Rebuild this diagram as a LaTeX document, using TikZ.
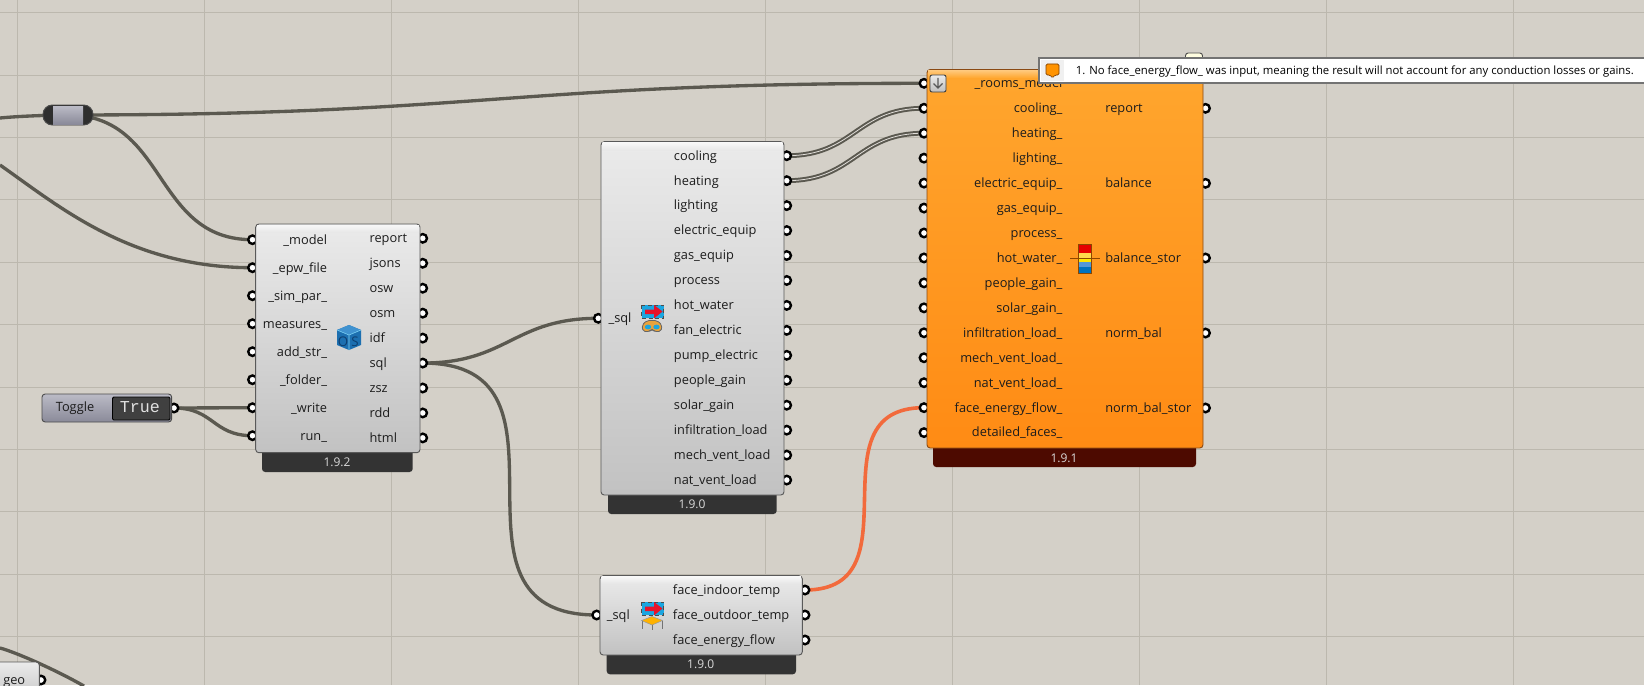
\documentclass[tikz,border=0pt]{standalone}
\usepackage{fontspec}
\setmainfont{Open Sans}
\setmonofont{Liberation Mono}
\definecolor{canvas}{HTML}{D4D0C8}
\definecolor{gridcol}{HTML}{BCB8AE}
\definecolor{wirecol}{HTML}{5B5950}
\definecolor{wirehot}{HTML}{F26A3C}
\definecolor{tabdark}{HTML}{333333}
\definecolor{tabred}{HTML}{4D0A00}
\definecolor{inkcol}{HTML}{1C1C1C}
\definecolor{orangetop}{HTML}{FFA62E}
\definecolor{orangelow}{HTML}{FF8B14}
\definecolor{orangeglow}{HTML}{FFC87A}
\definecolor{orangeedge}{HTML}{8A4A14}
\definecolor{lavtop}{HTML}{BBBBC6}
\definecolor{lavlow}{HTML}{8A8A99}
\definecolor{osblue}{HTML}{1C6FB0}
\definecolor{ostop}{HTML}{3F92D0}
\definecolor{osink}{HTML}{0D3F70}
\definecolor{sqlblue}{HTML}{1BA6E0}
\definecolor{sqlred}{HTML}{E8132A}
\definecolor{sqlgold}{HTML}{E8A33D}
\def\px{0.75pt}
\pgfdeclarelayer{gridlayer}
\pgfdeclarelayer{wirelayer}
\pgfsetlayers{gridlayer,wirelayer,main}
\tikzset{
  ghwire/.style={draw=wirecol,line width=2.5pt},
  ghlist/.style={draw=wirecol,line width=1.5pt,double=canvas!70!white,double distance=0.6pt},
  ghhot/.style={draw=wirehot,line width=2.7pt},
  ghport/.style={circle,draw=black,line width=1.8pt,fill=white,minimum size=8.5*\px,inner sep=0pt},
  ghbody/.style={draw=black!65,line width=0.7pt,rounded corners=2.4pt,top color=black!8,bottom color=black!24,inner sep=0pt},
  ghorange/.style={draw=orangeedge,line width=0.7pt,rounded corners=2.4pt,top color=orangetop,bottom color=orangelow,inner sep=0pt},
  ghtab/.style={fill=tabdark,rounded corners=2.4pt,inner sep=0pt},
  ghtabred/.style={fill=tabred,rounded corners=2.4pt,inner sep=0pt},
  ghver/.style={text=black!15,font=\fontsize{9}{11}\selectfont,inner sep=0pt},
  ghin/.style={anchor=mid east,yshift=-0.6pt,text=inkcol,font=\fontsize{9.6}{11}\selectfont,inner sep=0pt},
  ghout/.style={anchor=mid west,yshift=-0.6pt,text=inkcol,font=\fontsize{9.6}{11}\selectfont,inner sep=0pt},
}
\newcommand{\ghbox}[6]{%
  \node[#2,minimum width={(#5-#3)*\px},minimum height={(#6-#4)*\px}] (#1) at ({(#3+#5)/2},{(#4+#6)/2}) {};}
\begin{document}
\begin{tikzpicture}[x=0.75pt,y=-0.75pt]
  \useasboundingbox (0,0) rectangle (1644,685);
  \begin{pgfonlayer}{gridlayer}
    \fill[canvas] (0,0) rectangle (1644,685);
    \foreach \gx in {0,...,8} \draw[gridcol,line width=0.7pt] ({17+187*\gx},0) -- ({17+187*\gx},685);
    \foreach \gy in {0,...,10} \draw[gridcol,line width=0.7pt] (0,{12.6+62.4*\gy}) -- (1644,{12.6+62.4*\gy});
  \end{pgfonlayer}

  % relay and toggle
  \coordinate (wireleft) at (0,118);
  \coordinate (epwleft) at (0,165);
  \coordinate (geoleft) at (0,648);
  \coordinate (georight) at (84,686);
  \node[draw=black!70,line width=0.7pt,fill=black!82,rounded corners=7pt,minimum width=50*\px,minimum height=20*\px,inner sep=0pt] (relay) at (68,115) {};
  \node[top color=lavtop,bottom color=lavlow,minimum width=30*\px,minimum height=18*\px,inner sep=0pt] (relaymid) at (68,115) {};
  \node[ghport] (togout) at (174,408) {};
  \ghbox{toggle}{draw=black!70,line width=0.7pt,rounded corners=2.4pt,top color=lavtop,bottom color=lavlow,inner sep=0pt}{42}{394}{171.7}{422}
  \ghbox{togglebox}{draw=black,line width=0.7pt,fill=black!75,rounded corners=1pt,inner sep=0pt}{112.5}{397}{170}{420}
  \node[text=inkcol,font=\fontsize{9.6}{11}\selectfont,inner sep=0pt] (togtext) at (75,408) {Toggle};
  \node[text=black!12,font=\fontsize{12.5}{14}\ttfamily,inner sep=0pt] (togval) at (140,407) {True};

  % geo stub
  \node[ghport] (geoport) at (41,680) {};
  \ghbox{geobody}{ghbody}{-12}{662}{39.3}{705}
  \node[ghout] (geotext) at (3,680) {geo};

  % recompute component
  \foreach \n in {0,...,7} \node[ghport] (osin\n) at (252.5,{239.7+28*\n}) {};
  \foreach \n in {0,...,8} \node[ghport] (osout\n) at (422.7,{238.3+24.95*\n}) {};
  \ghbox{ostab}{ghtab}{262}{440}{412.7}{472}
  \ghbox{osbody}{ghbody}{255.7}{224}{420}{452.7}
  \shade[top color=black!3,bottom color=black!9] (257,225) rectangle (419,232);
  \node[ghver] (osver) at (337,462) {1.9.2};
  \foreach \lab [count=\n from 0] in {\_model,\_epw\_file,\_sim\_par\_,measures\_,add\_str\_,\_folder\_,\_write,run\_}
    \node[ghin] (oslab\n) at (327.3,{239.7+28*\n}) {\lab};
  \foreach \lab [count=\n from 0] in {report,jsons,osw,osm,idf,sql,zsz,rdd,html}
    \node[ghout] (osres\n) at (369.3,{238.3+24.95*\n}) {\lab};
  \fill[osblue] (349,325) -- (361,330) -- (361,345) -- (349,350) -- (337,345) -- (337,330) -- cycle;
  \fill[ostop] (349,325) -- (361,330) -- (349,335) -- (337,330) -- cycle;
  \draw[white!50!cyan,line width=0.4pt] (337,330) -- (349,335) -- (361,330) (349,335) -- (349,350);
  \node[text=osink,font=\fontsize{10}{10}\selectfont,inner sep=0pt] (osglyph) at (343,342) {O};
  \node[text=osink,font=\fontsize{10}{10}\selectfont,inner sep=0pt] (osglyphb) at (355,342) {S};

  % energy results component
  \node[ghport] (enin) at (598.3,318.3) {};
  \foreach \n in {0,...,13} \node[ghport] (enout\n) at (786.7,{155.7+24.95*\n}) {};
  \ghbox{entab}{ghtab}{608}{480}{776.7}{514}
  \ghbox{enbody}{ghbody}{601}{141.7}{784}{495}
  \shade[top color=black!3,bottom color=black!9] (602.3,142.7) rectangle (782.7,150);
  \node[ghver] (enver) at (692,504.3) {1.9.0};
  \node[ghin] (enlab) at (631.7,318.3) {\_sql};
  \foreach \lab [count=\n from 0] in {cooling,heating,lighting,electric\_equip,gas\_equip,process,hot\_water,fan\_electric,pump\_electric,people\_gain,solar\_gain,infiltration\_load,mech\_vent\_load,nat\_vent\_load}
    \node[ghout] (enres\n) at (673.7,{155.7+24.95*\n}) {\lab};

  % face results component
  \node[ghport] (facein) at (596.7,615) {};
  \foreach \n in {0,1,2} \node[ghport] (faceout\n) at (805,{590+25*\n}) {};
  \ghbox{facetab}{ghtab}{606.7}{640}{796}{674.3}
  \ghbox{facebody}{ghbody}{600}{575.7}{802.3}{655}
  \shade[top color=black!3,bottom color=black!9] (601.3,576.7) rectangle (801,583);
  \node[ghver] (facever) at (700.7,664) {1.9.0};
  \node[ghin] (facelab) at (630,615) {\_sql};
  \foreach \lab [count=\n from 0] in {face\_indoor\_temp,face\_outdoor\_temp,face\_energy\_flow}
    \node[ghout] (faceres\n) at (672.7,{590+25*\n}) {\lab};

  % sql glyphs
  \foreach \sy in {0,297} {
    \begin{scope}[shift={(0,\sy)}]
      \fill[sqlblue] (641.5,305) rectangle (663.5,318);
      \draw[black!70,line width=0.7pt,densely dashed] (641.5,305) rectangle (663.5,318);
      \fill[sqlred] (645,309.5) -- (654,309.5) -- (654,305) -- (662.5,311.5) -- (654,318.5) -- (654,314) -- (645,314) -- cycle;
    \end{scope}
  }
  \fill[sqlgold,draw=black!60,line width=0.6pt,rounded corners=1.5pt] (647,320.5) -- (657,320.5) -- (662,325) -- (661,331.5) -- (654,331.5) -- (652,329) -- (650,331.5) -- (643,331.5) -- (642,325) -- cycle;
  \fill[sqlblue] (648,327) ellipse (3.2 and 2.4);
  \fill[sqlblue] (656.5,327) ellipse (3.2 and 2.4);
  \draw[black!55,line width=0.7pt] (642,621) -- (642,629) (652,624) -- (652,630) (662,621) -- (662,629);
  \fill[orange!60!yellow,draw=black!40,line width=0.4pt] (641.5,620.5) -- (652,616.5) -- (662.5,620.5) -- (652,625) -- cycle;

  % room balance component
  \foreach \n in {0,...,14} \node[ghport] (balin\n) at (924,{83.3+24.95*\n}) {};
  \foreach \n/\ry in {0/108.3,1/183.3,2/258,3/333,4/408} \node[ghport] (balout\n) at (1205.5,\ry) {};
  \ghbox{baltab}{ghtabred}{933}{430}{1196}{467}
  \ghbox{balbody}{ghorange}{927}{69.5}{1203}{448}
  \shade[top color=orangeglow,bottom color=orangetop] (928,70.5) rectangle (1202,78);
  \node[ghver] (balver) at (1064,458) {1.9.1};
  \foreach \lab [count=\n from 0] in {\_rooms\_model,cooling\_,heating\_,lighting\_,electric\_equip\_,gas\_equip\_,process\_,hot\_water\_,people\_gain\_,solar\_gain\_,infiltration\_load\_,mech\_vent\_load\_,nat\_vent\_load\_,face\_energy\_flow\_,detailed\_faces\_}
    \node[ghin] (ballab\n) at (1062.7,{83.3+24.95*\n}) {\lab};
  \foreach \lab/\ry [count=\n from 0] in {report/108.3,balance/183.3,balance\_stor/258,norm\_bal/333,norm\_bal\_stor/408}
    \node[ghout] (balres\n) at (1105,\ry) {\lab};
  \ghbox{balbtn}{draw=black!75,line width=0.7pt,rounded corners=1.5pt,top color=black!8,bottom color=black!25,inner sep=0pt}{930}{75}{946}{92}
  \draw[black!65,line width=1pt] (938,78) -- (938,88) (933.5,83.5) -- (938,88) -- (942.5,83.5);
  \fill[red!90!black] (1078.5,244) rectangle (1091.5,253);
  \fill[orange!45!yellow!70!white] (1078.5,253) rectangle (1091.5,258);
  \fill[yellow!90!orange] (1078.5,258) rectangle (1091.5,262);
  \fill[cyan!60!blue!70] (1078.5,262) rectangle (1091.5,267);
  \fill[blue!40!cyan!75!black] (1078.5,267) rectangle (1091.5,273.5);
  \draw[black!45!orange,line width=0.7pt] (1078.5,244) rectangle (1091.5,273.5);
  \draw[black!45!orange,line width=0.9pt] (1070,258.5) -- (1100,258.5);

  % warning balloon
  \node[draw=black!70,line width=0.7pt,fill=yellow!12,rounded corners=2pt,minimum width=17*\px,minimum height=12*\px,inner sep=0pt] (noteflag) at (1194,59) {};
  \ghbox{notebox}{fill=white,draw=black!55,line width=0.8pt,inner sep=0pt}{1039}{58}{1650}{83}
  \ghbox{noteicon}{fill=black!6,inner sep=0pt}{1041}{60}{1064}{81}
  \fill[orange!85!yellow,draw=black!50!orange,line width=0.5pt,rounded corners=1pt] (1046,64) -- (1059,64) -- (1059,75) -- (1055,75) -- (1052.5,78) -- (1050,75) -- (1046,75) -- cycle;
  \node[anchor=mid west,text=black,font=\fontsize{8.5}{11}\selectfont,inner sep=0pt] (notetext) at (1075.6,71) {1. No face\_energy\_flow\_ was input, meaning the result will not account for any conduction losses or gains.};

  % wires
  \begin{pgfonlayer}{wirelayer}
    \draw[ghwire] (wireleft) .. controls +(20,-2) and +(-15,0) .. (relay.center);
    \draw[ghwire] (relay.center) .. controls +(415,0) and +(-415,0) .. (balin0.center);
    \draw[ghwire] (relay.center) .. controls +(100,0) and +(-100,0) .. (osin0.center);
    \draw[ghwire] (epwleft) .. controls +(60,42) and +(-122,0) .. (osin1.center);
    \draw[ghwire] (togout.center) -- (osin6.center);
    \draw[ghwire] (togout.center) .. controls +(40,0) and +(-40,0) .. (osin7.center);
    \draw[ghwire] (osout5.center) .. controls +(85,0) and +(-85,0) .. (enin.center);
    \draw[ghwire] (osout5.center) .. controls +(172,0) and +(-172,0) .. (facein.center);
    \draw[ghwire] (geoleft) .. controls +(15,4) and +(-30,-17) .. (georight);
    \draw[ghlist] (enout0.center) .. controls +(68,0) and +(-68,0) .. (balin1.center);
    \draw[ghlist] (enout1.center) .. controls +(68,0) and +(-68,0) .. (balin2.center);
    \draw[ghhot] (faceout0.center) .. controls +(115,0) and +(-115,0) .. (balin13.center);
  \end{pgfonlayer}
\end{tikzpicture}
\end{document}
